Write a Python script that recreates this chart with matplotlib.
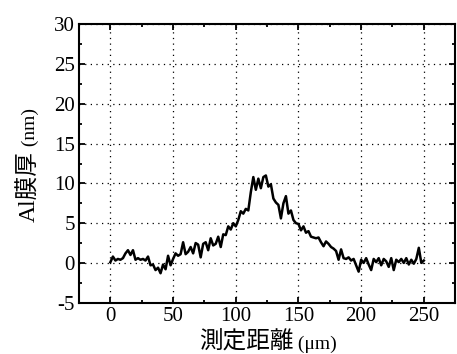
import matplotlib
matplotlib.use('Agg')
import matplotlib.pyplot as plt
from matplotlib.ticker import MultipleLocator

plt.rcParams['font.family'] = ['Liberation Serif', 'Noto Sans CJK JP']
plt.rcParams['axes.unicode_minus'] = False

# distance (um) and Al film thickness (nm)
distance = list(range(0, 252, 2))
thickness = [
    0.1, 0.8, 0.3, 0.5, 0.4, 0.6, 1.2, 1.6, 1.0, 1.6,
    0.4, 0.6, 0.4, 0.5, 0.3, 0.8, -0.3, -0.2, -0.9, -0.6,
    -1.3, -0.2, -0.8, 0.9, -0.3, 0.5, 1.2, 0.9, 1.1, 2.6,
    1.1, 1.4, 2.0, 1.2, 2.5, 2.3, 0.7, 2.4, 2.6, 1.6,
    3.1, 2.2, 2.4, 3.3, 2.0, 3.6, 3.5, 4.6, 4.2, 5.0,
    4.6, 5.4, 6.5, 6.2, 6.8, 6.6, 8.9, 10.8, 9.2, 10.6,
    9.4, 10.8, 11.0, 9.6, 9.9, 8.1, 7.6, 7.3, 5.6, 7.5,
    8.4, 6.2, 6.6, 5.4, 5.0, 4.9, 4.1, 4.6, 3.8, 4.0,
    3.3, 3.2, 3.1, 3.2, 2.6, 2.1, 2.7, 2.4, 2.0, 1.8,
    1.5, 0.4, 1.7, 0.6, 0.5, 0.7, 0.3, 0.5, -0.3, -1.1,
    0.4, 0.0, 0.6, -0.2, -0.9, 0.5, 0.1, 0.6, -0.3, 0.5,
    0.2, -0.5, 0.6, -0.9, 0.4, 0.1, 0.5, 0.0, 0.6, -0.2,
    0.4, -0.1, 0.5, 1.9, 0.0, 0.3,
]

xlabel_jp, xlabel_unit = '測定距離', ' (μm)'
ylabel_jp, ylabel_unit = 'Al膜厚', ' (nm)'

fig = plt.figure(figsize=(4.57, 3.54), dpi=100)
ax = fig.add_axes([0.173, 0.145, 0.823, 0.786])

ax.plot(distance, thickness, color='black', lw=1.8)

ax.set_xlim(-25, 275)
ax.set_ylim(-5, 30)
ax.xaxis.set_major_locator(MultipleLocator(50))
ax.xaxis.set_minor_locator(MultipleLocator(25))
ax.yaxis.set_major_locator(MultipleLocator(5))
ax.yaxis.set_minor_locator(MultipleLocator(2.5))

ax.grid(True, which='major', color='black', lw=0.9, linestyle=(0, (1, 3.5)))
ax.tick_params(which='both', direction='in', top=True, right=True,
               width=1.3, labelsize=15, pad=3)
ax.tick_params(which='major', length=4.5)
ax.tick_params(which='minor', length=2.5)
for s in ax.spines.values():
    s.set_linewidth(1.5)

# axis labels: japanese part bigger than the unit part, so two texts each
tx1 = fig.text(0, 0, xlabel_jp, fontsize=17, va='baseline', ha='left')
tx2 = fig.text(0, 0, xlabel_unit, fontsize=14, va='baseline', ha='left')
ty1 = fig.text(0, 0, ylabel_jp, fontsize=17, va='baseline', ha='left',
               rotation=90, rotation_mode='anchor')
ty2 = fig.text(0, 0, ylabel_unit, fontsize=14, va='baseline', ha='left',
               rotation=90, rotation_mode='anchor')

fig.canvas.draw()
r = fig.canvas.get_renderer()
W, H = fig.bbox.width, fig.bbox.height

w1 = tx1.get_window_extent(r).width
w2 = tx2.get_window_extent(r).width
cx, base = 268, 349  # pixel centre / baseline (from top)
x0 = cx - (w1 + w2) / 2
tx1.set_position((x0 / W, (H - base) / H))
tx2.set_position(((x0 + w1) / W, (H - base) / H))

h1 = ty1.get_window_extent(r).height
h2 = ty2.get_window_extent(r).height
cy, basex = 165, 35
y0 = cy + (h1 + h2) / 2  # bottom of label, pixels from top
ty1.set_position((basex / W, (H - y0) / H))
ty2.set_position((basex / W, (H - y0 + h1) / H))

fig.savefig('out.png', dpi=100)
